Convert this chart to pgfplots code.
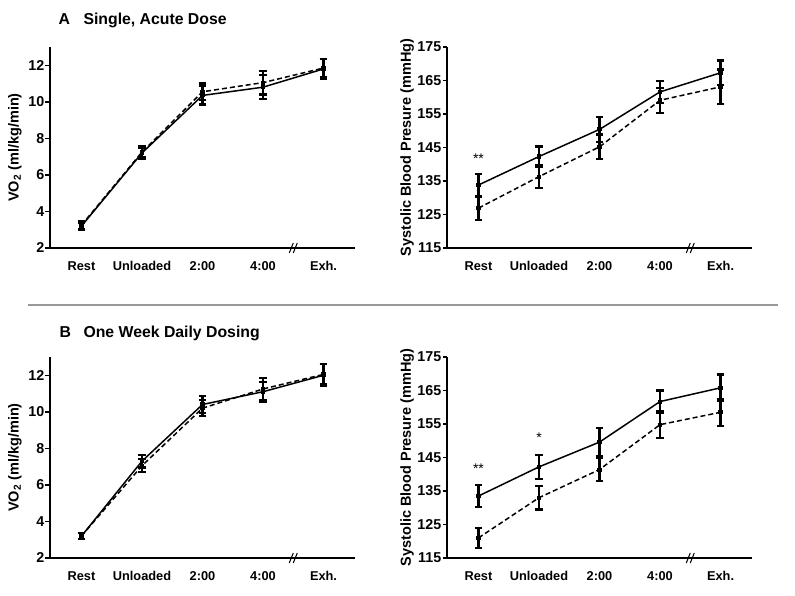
\documentclass[border=0pt]{standalone}
\usepackage{pgfplots}
\pgfplotsset{compat=1.18}
\usepackage{fontspec}
\setmainfont{Liberation Sans}
\pgfplotsset{
  panel/.style={
    anchor=south west, scale only axis, width=305bp, height=201bp,
    xmin=-0.52, xmax=4.52,
    axis x line*=bottom, axis y line*=left,
    axis line style={line width=1.8bp},
    xtick={0,1,2,3,4}, xticklabels={Rest,Unloaded,2:00,4:00,Exh.},
    x tick style={draw=none},
    y tick style={line width=1.5bp, black},
    tick align=outside, major tick length=4.5bp,
    xticklabel style={font=\fontsize{12.8bp}{14bp}\selectfont\bfseries, text height=9.5bp, text depth=0bp, anchor=north, yshift=-5bp},
    yticklabel style={font=\fontsize{14.3bp}{16bp}\selectfont\bfseries, inner sep=1bp},
    /pgf/number format/assume math mode=true,
    label style={font=\fontsize{14.5bp}{16bp}\selectfont\bfseries},
    clip=false,
  },
  sol/.style={black, line width=1.5bp, mark=square*, mark size=1.3bp, mark options={fill=black, draw=black},
    error bars/.cd, y dir=both, y explicit,
    error bar style={line width=2.2bp, black},
    error mark options={rotate=90, mark size=3.8bp, line width=2.2bp, black}},
  das/.style={black, line width=1.5bp, dash pattern=on 5bp off 3bp, mark=square*, mark size=1.3bp, mark options={solid, fill=black, draw=black},
    error bars/.cd, y dir=both, y explicit,
    error bar style={line width=2.2bp, solid, black},
    error mark options={rotate=90, mark size=3.8bp, line width=2.2bp, solid, black}},
}
\newcommand{\brk}[1]{%
  \draw[line width=1bp] ([xshift=-4bp,yshift=-5bp]axis cs:3.5,#1) -- ++(4bp,10bp);
  \draw[line width=1bp] ([xshift=0bp,yshift=-5bp]axis cs:3.5,#1) -- ++(4bp,10bp);}
\begin{document}
\begin{tikzpicture}
\path[use as bounding box] (0,0) rectangle (795bp,596bp);
% titles
\node[anchor=base west, font=\fontsize{15.8bp}{18bp}\selectfont\bfseries] at (55bp,571bp) {A};
\node[anchor=base west, font=\fontsize{15.8bp}{18bp}\selectfont\bfseries] at (80bp,571bp) {Single, Acute Dose};
\node[anchor=base west, font=\fontsize{15.8bp}{18bp}\selectfont\bfseries] at (56bp,258bp) {B};
\node[anchor=base west, font=\fontsize{15.8bp}{18bp}\selectfont\bfseries] at (80bp,258bp) {One Week Daily Dosing};
\draw[gray!80, line width=1.2bp] (28bp,291bp) -- (778bp,291bp);

% A VO2
\begin{axis}[panel, at={(50bp,348bp)}, ymin=2, ymax=13, ytick={2,4,6,8,10,12},
  ylabel={VO\textsubscript{2} (ml/kg/min)},
  ylabel style={at={(axis description cs:-0.115,0.5)}, anchor=center}]
\addplot[sol] table[x=x,y=y,y error=e] {
x y e
0 3.2 0.2
1 7.2 0.3
2 10.35 0.5
3 10.8 0.65
4 11.8 0.55
};
\addplot[das] table[x=x,y=y,y error=e] {
x y e
0 3.25 0.2
1 7.25 0.3
2 10.55 0.45
3 11.05 0.65
4 11.85 0.5
};
\brk{2}
\end{axis}

% A BP
\begin{axis}[panel, at={(447bp,348bp)}, ymin=115, ymax=175, ytick={115,125,...,175},
  ylabel={Systolic Blood Presure (mmHg)},
  ylabel style={at={(axis description cs:-0.131,0.5)}, anchor=center}]
\addplot[sol] table[x=x,y=y,y error=e] {
x y e
0 133.8 3.2
1 142.3 3.0
2 150.4 3.8
3 161.6 3.3
4 167.3 3.7
};
\addplot[das] table[x=x,y=y,y error=e] {
x y e
0 126.9 3.5
1 136.3 3.5
2 145.2 3.7
3 159.1 3.7
4 163.1 5.2
};
\node[font=\fontsize{14bp}{16bp}\selectfont] at (axis cs:0,141.8) {**};
\brk{115}
\end{axis}

% B VO2
\begin{axis}[panel, at={(50bp,38bp)}, ymin=2, ymax=13, ytick={2,4,6,8,10,12},
  ylabel={VO\textsubscript{2} (ml/kg/min)},
  ylabel style={at={(axis description cs:-0.115,0.5)}, anchor=center}]
\addplot[sol] table[x=x,y=y,y error=e] {
x y e
0 3.2 0.15
1 7.3 0.35
2 10.4 0.45
3 11.1 0.55
4 12.0 0.6
};
\addplot[das] table[x=x,y=y,y error=e] {
x y e
0 3.2 0.15
1 7.05 0.35
2 10.2 0.45
3 11.25 0.6
4 12.05 0.55
};
\brk{2}
\end{axis}

% B BP
\begin{axis}[panel, at={(447bp,38bp)}, ymin=115, ymax=175, ytick={115,125,...,175},
  ylabel={Systolic Blood Presure (mmHg)},
  ylabel style={at={(axis description cs:-0.131,0.5)}, anchor=center}]
\addplot[sol] table[x=x,y=y,y error=e] {
x y e
0 133.5 3.3
1 142.2 3.5
2 149.6 4.2
3 161.7 3.3
4 165.8 4.0
};
\addplot[das] table[x=x,y=y,y error=e] {
x y e
0 121.0 3.0
1 133.0 3.5
2 141.4 3.5
3 154.8 4.0
4 158.5 4.0
};
\node[font=\fontsize{14bp}{16bp}\selectfont] at (axis cs:0,141.8) {**};
\node[font=\fontsize{14bp}{16bp}\selectfont] at (axis cs:1,150.8) {*};
\brk{115}
\end{axis}
\end{tikzpicture}
\end{document}
